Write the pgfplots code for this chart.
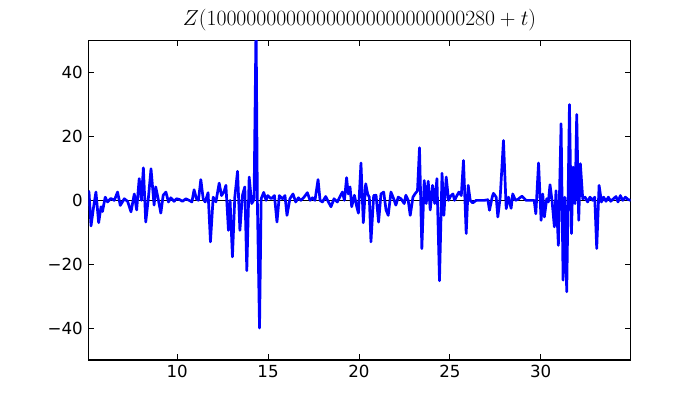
\RequirePackage{fix-cm}
\documentclass[border=0pt]{standalone}
\usepackage{fontspec}
\usepackage{pgfplots}
\pgfplotsset{compat=1.18}
\newfontfamily\tickfont{DejaVu Sans}
\definecolor{mplblue}{RGB}{0,0,255}
\begin{document}
\begin{tikzpicture}[x=1bp,y=1bp]
\useasboundingbox (-88.3,-40) rectangle (611.7,360);
\begin{axis}[
  at={(0,0)}, anchor=south west,
  scale only axis, width=542.4bp, height=319.3bp,
  xmin=5.11, xmax=34.95, ymin=-50, ymax=50,
  xtick={10,15,20,25,30},
  ytick={-40,-20,0,20,40},
  yticklabels={−40,−20,0,20,40},
  tick align=inside,
  major tick length=5.6bp,
  axis line style={line width=1.1bp},
  every tick/.style={black, line width=0.9bp},
  tick label style={font=\tickfont\fontsize{16.7}{20}\selectfont},
  /pgf/number format/assume math mode=true,
  xticklabel style={yshift=-2bp},
  yticklabel style={xshift=-2bp},
  title={$Z(10000000000000000000000000280+t)$},
  title style={font=\fontsize{21.8}{26}\selectfont, at={(0.5,1)}, anchor=base, yshift=9bp},
  clip=true,
]
\addplot[black, line width=0.8bp, forget plot] coordinates {(5.11,0) (34.95,0)};
\addplot[mplblue, line width=2.7bp, line join=round] coordinates {
(5.10,3.0) (5.15,2.5) (5.26,-8) (5.39,-2.5) (5.53,2.6) (5.68,-7) (5.81,-2) (5.89,-3.5)
(6.04,1) (6.17,-0.5) (6.35,0.6) (6.54,0) (6.72,2.6) (6.87,-1.6) (7.09,0.5) (7.27,-0.3)
(7.46,-3.6) (7.64,2) (7.77,-3) (7.91,6.8) (8.03,0) (8.14,10.2) (8.27,-6.8) (8.42,1)
(8.56,9.9) (8.73,-1.5) (8.82,4.2) (8.97,0) (9.10,-4) (9.23,1.6) (9.38,2.6) (9.52,-0.5)
(9.65,0.8) (9.83,-0.3) (9.96,0.5) (10.11,0.3) (10.29,-0.3) (10.48,0.5) (10.66,0) (10.81,-0.5)
(10.93,3.3) (11.06,0.5) (11.17,0) (11.30,6.5) (11.43,0.5) (11.54,-0.5) (11.70,2.4) (11.83,-13)
(11.98,1) (12.13,-0.5) (12.31,5.4) (12.44,1.5) (12.57,2.6) (12.68,4.7) (12.82,-9.4) (12.91,0)
(13.04,-17.7) (13.17,1) (13.32,9.1) (13.45,-9.4) (13.59,1.6) (13.72,4.2) (13.83,-22) (13.96,7.3)
(14.10,-1) (14.20,0) (14.23,1) (14.34,56) (14.41,0) (14.53,-40) (14.62,0.5) (14.76,2.5)
(14.89,0) (14.98,1.5) (15.17,0.5) (15.35,1.5) (15.49,-6.8) (15.62,1.5) (15.80,0.5) (15.93,1.5)
(16.04,-4.7) (16.20,0.5) (16.37,2) (16.52,-0.5) (16.67,0.8) (16.80,0) (16.98,1) (17.16,2.4)
(17.31,0) (17.44,0.8) (17.58,0) (17.75,6.5) (17.86,0) (17.99,-0.5) (18.17,1.2) (18.32,-0.5)
(18.46,-2) (18.63,0.5) (18.81,-0.5) (18.94,1) (19.09,2.6) (19.20,0) (19.32,7.1) (19.41,2)
(19.51,4.2) (19.60,-2) (19.75,1.6) (19.86,-1.5) (19.97,-4) (20.11,11.7) (20.24,-7) (20.37,5.2)
(20.48,2) (20.57,1) (20.66,-13) (20.81,1.5) (20.94,1.6) (21.08,-6.8) (21.21,2) (21.36,2.6)
(21.49,-3) (21.61,-4.7) (21.76,2.6) (21.91,0.5) (22.03,-1.5) (22.16,1) (22.31,0.5) (22.49,-1)
(22.58,1.6) (22.71,0) (22.82,-4.7) (22.97,1) (23.08,2) (23.22,3) (23.33,16.5) (23.46,-15.1)
(23.59,6.2) (23.70,-1) (23.81,6) (23.92,-3) (24.05,4.7) (24.17,-1) (24.29,6.8) (24.43,-25.2)
(24.57,8.5) (24.67,-4.7) (24.80,7.3) (24.93,0) (25.04,1.3) (25.17,2) (25.26,0) (25.39,1.5)
(25.50,2.6) (25.63,1.5) (25.75,12.5) (25.90,-10.4) (26.01,4.7) (26.12,0) (26.26,-0.8) (26.45,0)
(26.63,0) (26.91,0) (27.09,0.2) (27.18,-3.1) (27.33,1) (27.40,2.2) (27.55,1) (27.64,-5.2)
(27.77,1) (27.95,18.75) (28.10,-2.6) (28.23,1) (28.37,-2.5) (28.46,2) (28.61,0) (28.74,0.3)
(28.97,1.3) (29.19,0) (29.46,0) (29.64,0) (29.73,-4.2) (29.88,11.7) (30.02,-6.25) (30.11,2)
(30.20,-5.2) (30.33,0.5) (30.42,-0.5) (30.51,4.9) (30.62,0) (30.75,-8.3) (30.84,3) (30.97,-14.1)
(31.12,24) (31.23,-25) (31.32,1) (31.43,-28.6) (31.58,30) (31.69,-10.4) (31.78,10.4) (31.89,-1)
(31.98,26.9) (32.09,-6.25) (32.18,11.5) (32.31,0.5) (32.44,1) (32.58,-0.5) (32.71,1) (32.86,0)
(32.97,1) (33.08,-15.1) (33.21,4.7) (33.34,-0.5) (33.46,1) (33.59,-0.3) (33.72,1) (33.85,-0.3)
(34.00,0.5) (34.14,1.2) (34.25,-0.5) (34.38,1.5) (34.51,0) (34.66,1) (34.79,0.3) (34.95,0)
};
\end{axis}
\end{tikzpicture}
\end{document}
